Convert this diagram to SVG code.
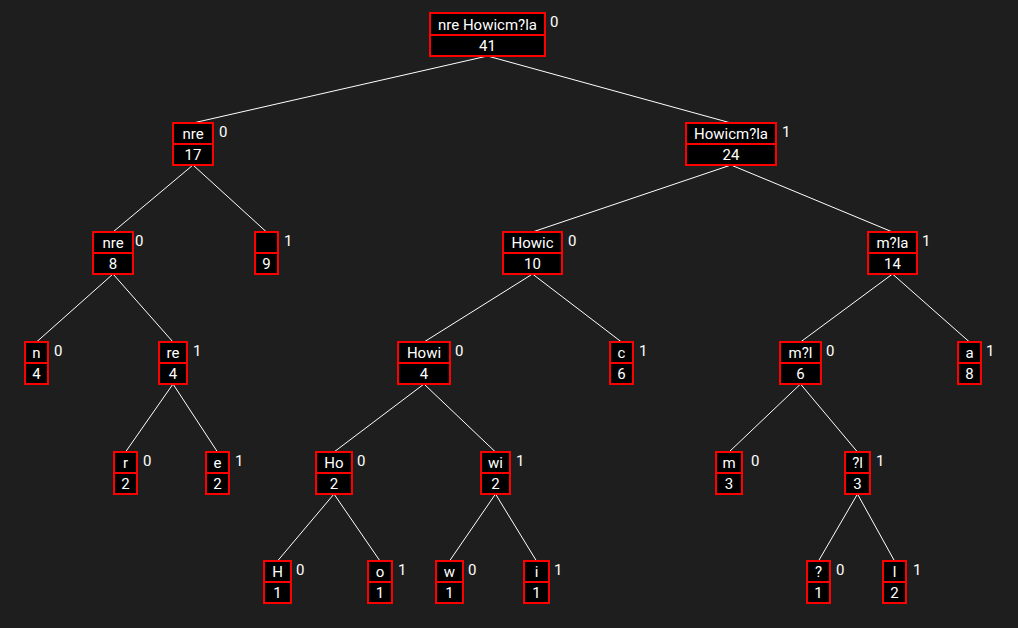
<svg xmlns="http://www.w3.org/2000/svg" width="1018" height="628" viewBox="0 0 1018 628">
<style>
.bg{fill:#1e1e1e}
.cell{fill:#000;stroke:#ff0000;stroke-width:2}
.t{font-family:Roboto,"Liberation Sans",sans-serif;font-size:15px;fill:#fff;text-anchor:middle}
.b{font-family:Roboto,"Liberation Sans",sans-serif;font-size:15px;fill:#fff}
.e{stroke:#fff;stroke-width:1;fill:none}
</style>
<rect class="bg" x="0" y="0" width="1018" height="628"/>
<g id="connectors">
<line class="e" x1="487.5" y1="56" x2="193" y2="123"/>
<line class="e" x1="487.5" y1="56" x2="731" y2="123"/>
<line class="e" x1="193" y1="165" x2="113" y2="232"/>
<line class="e" x1="193" y1="165" x2="266.5" y2="232"/>
<line class="e" x1="731" y1="165" x2="532.5" y2="232"/>
<line class="e" x1="731" y1="165" x2="892.5" y2="232"/>
<line class="e" x1="113" y1="274" x2="36.5" y2="342"/>
<line class="e" x1="113" y1="274" x2="173" y2="342"/>
<line class="e" x1="532.5" y1="274" x2="424" y2="342"/>
<line class="e" x1="532.5" y1="274" x2="621.5" y2="342"/>
<line class="e" x1="892.5" y1="274" x2="800.5" y2="342"/>
<line class="e" x1="892.5" y1="274" x2="969.5" y2="342"/>
<line class="e" x1="173" y1="384" x2="125.5" y2="452"/>
<line class="e" x1="173" y1="384" x2="217.5" y2="452"/>
<line class="e" x1="424" y1="384" x2="334" y2="452"/>
<line class="e" x1="424" y1="384" x2="495.5" y2="452"/>
<line class="e" x1="800.5" y1="384" x2="729" y2="452"/>
<line class="e" x1="800.5" y1="384" x2="857.5" y2="452"/>
<line class="e" x1="334" y1="494" x2="277.5" y2="561"/>
<line class="e" x1="334" y1="494" x2="380" y2="561"/>
<line class="e" x1="495.5" y1="494" x2="449.5" y2="561"/>
<line class="e" x1="495.5" y1="494" x2="536.5" y2="561"/>
<line class="e" x1="857.5" y1="494" x2="818.5" y2="561"/>
<line class="e" x1="857.5" y1="494" x2="894.5" y2="561"/>
</g>
<g id="n-root"><rect class="cell" x="430" y="13" width="115" height="22"/><rect class="cell" x="430" y="35" width="115" height="21"/><text class="t" x="487.5" y="30">nre Howicm?la</text><text class="t" x="487.5" y="51">41</text><text class="b" x="550" y="27">0</text></g>
<g id="n-nre17"><rect class="cell" x="173" y="123" width="40" height="21"/><rect class="cell" x="173" y="144" width="40" height="21"/><text class="t" x="193" y="139">nre</text><text class="t" x="193" y="160">17</text><text class="b" x="219" y="137">0</text></g>
<g id="n-howicmla"><rect class="cell" x="686" y="123" width="90" height="21"/><rect class="cell" x="686" y="144" width="90" height="21"/><text class="t" x="731" y="139">Howicm?la</text><text class="t" x="731" y="160">24</text><text class="b" x="782" y="137">1</text></g>
<g id="n-nre8"><rect class="cell" x="93" y="232" width="40" height="21"/><rect class="cell" x="93" y="253" width="40" height="21"/><text class="t" x="113" y="248">nre</text><text class="t" x="113" y="269">8</text><text class="b" x="135" y="246">0</text></g>
<g id="n-space"><rect class="cell" x="255" y="232" width="23" height="21"/><rect class="cell" x="255" y="253" width="23" height="21"/><text class="t" x="266.5" y="248"> </text><text class="t" x="266.5" y="269">9</text><text class="b" x="284" y="246">1</text></g>
<g id="n-howic"><rect class="cell" x="503" y="232" width="59" height="21"/><rect class="cell" x="503" y="253" width="59" height="21"/><text class="t" x="532.5" y="248">Howic</text><text class="t" x="532.5" y="269">10</text><text class="b" x="568" y="246">0</text></g>
<g id="n-mla"><rect class="cell" x="868" y="232" width="49" height="21"/><rect class="cell" x="868" y="253" width="49" height="21"/><text class="t" x="892.5" y="248">m?la</text><text class="t" x="892.5" y="269">14</text><text class="b" x="922" y="246">1</text></g>
<g id="n-n"><rect class="cell" x="25" y="342" width="23" height="21"/><rect class="cell" x="25" y="363" width="23" height="21"/><text class="t" x="36.5" y="358">n</text><text class="t" x="36.5" y="379">4</text><text class="b" x="54" y="356">0</text></g>
<g id="n-re"><rect class="cell" x="159" y="342" width="28" height="21"/><rect class="cell" x="159" y="363" width="28" height="21"/><text class="t" x="173" y="358">re</text><text class="t" x="173" y="379">4</text><text class="b" x="193" y="356">1</text></g>
<g id="n-howi"><rect class="cell" x="398" y="342" width="52" height="21"/><rect class="cell" x="398" y="363" width="52" height="21"/><text class="t" x="424" y="358">Howi</text><text class="t" x="424" y="379">4</text><text class="b" x="455" y="356">0</text></g>
<g id="n-c"><rect class="cell" x="610" y="342" width="23" height="21"/><rect class="cell" x="610" y="363" width="23" height="21"/><text class="t" x="621.5" y="358">c</text><text class="t" x="621.5" y="379">6</text><text class="b" x="639" y="356">1</text></g>
<g id="n-ml"><rect class="cell" x="780" y="342" width="41" height="21"/><rect class="cell" x="780" y="363" width="41" height="21"/><text class="t" x="800.5" y="358">m?l</text><text class="t" x="800.5" y="379">6</text><text class="b" x="826" y="356">0</text></g>
<g id="n-a"><rect class="cell" x="958" y="342" width="23" height="21"/><rect class="cell" x="958" y="363" width="23" height="21"/><text class="t" x="969.5" y="358">a</text><text class="t" x="969.5" y="379">8</text><text class="b" x="986" y="356">1</text></g>
<g id="n-r"><rect class="cell" x="114" y="452" width="23" height="21"/><rect class="cell" x="114" y="473" width="23" height="21"/><text class="t" x="125.5" y="468">r</text><text class="t" x="125.5" y="489">2</text><text class="b" x="143" y="466">0</text></g>
<g id="n-e"><rect class="cell" x="206" y="452" width="23" height="21"/><rect class="cell" x="206" y="473" width="23" height="21"/><text class="t" x="217.5" y="468">e</text><text class="t" x="217.5" y="489">2</text><text class="b" x="235" y="466">1</text></g>
<g id="n-ho"><rect class="cell" x="316" y="452" width="36" height="21"/><rect class="cell" x="316" y="473" width="36" height="21"/><text class="t" x="334" y="468">Ho</text><text class="t" x="334" y="489">2</text><text class="b" x="357" y="466">0</text></g>
<g id="n-wi"><rect class="cell" x="481" y="452" width="29" height="21"/><rect class="cell" x="481" y="473" width="29" height="21"/><text class="t" x="495.5" y="468">wi</text><text class="t" x="495.5" y="489">2</text><text class="b" x="516" y="466">1</text></g>
<g id="n-m"><rect class="cell" x="716" y="452" width="26" height="21"/><rect class="cell" x="716" y="473" width="26" height="21"/><text class="t" x="729" y="468">m</text><text class="t" x="729" y="489">3</text><text class="b" x="751" y="466">0</text></g>
<g id="n-ql"><rect class="cell" x="845" y="452" width="25" height="21"/><rect class="cell" x="845" y="473" width="25" height="21"/><text class="t" x="857.5" y="468">?l</text><text class="t" x="857.5" y="489">3</text><text class="b" x="876" y="466">1</text></g>
<g id="n-H"><rect class="cell" x="264" y="561" width="27" height="21"/><rect class="cell" x="264" y="582" width="27" height="21"/><text class="t" x="277.5" y="577">H</text><text class="t" x="277.5" y="598">1</text><text class="b" x="296" y="575">0</text></g>
<g id="n-o"><rect class="cell" x="368" y="561" width="24" height="21"/><rect class="cell" x="368" y="582" width="24" height="21"/><text class="t" x="380" y="577">o</text><text class="t" x="380" y="598">1</text><text class="b" x="398" y="575">1</text></g>
<g id="n-w"><rect class="cell" x="436" y="561" width="27" height="21"/><rect class="cell" x="436" y="582" width="27" height="21"/><text class="t" x="449.5" y="577">w</text><text class="t" x="449.5" y="598">1</text><text class="b" x="468" y="575">0</text></g>
<g id="n-i"><rect class="cell" x="524" y="561" width="25" height="21"/><rect class="cell" x="524" y="582" width="25" height="21"/><text class="t" x="536.5" y="577">i</text><text class="t" x="536.5" y="598">1</text><text class="b" x="554" y="575">1</text></g>
<g id="n-q"><rect class="cell" x="807" y="561" width="23" height="21"/><rect class="cell" x="807" y="582" width="23" height="21"/><text class="t" x="818.5" y="577">?</text><text class="t" x="818.5" y="598">1</text><text class="b" x="836" y="575">0</text></g>
<g id="n-l"><rect class="cell" x="883" y="561" width="23" height="21"/><rect class="cell" x="883" y="582" width="23" height="21"/><text class="t" x="894.5" y="577">l</text><text class="t" x="894.5" y="598">2</text><text class="b" x="913" y="575">1</text></g>
</svg>
